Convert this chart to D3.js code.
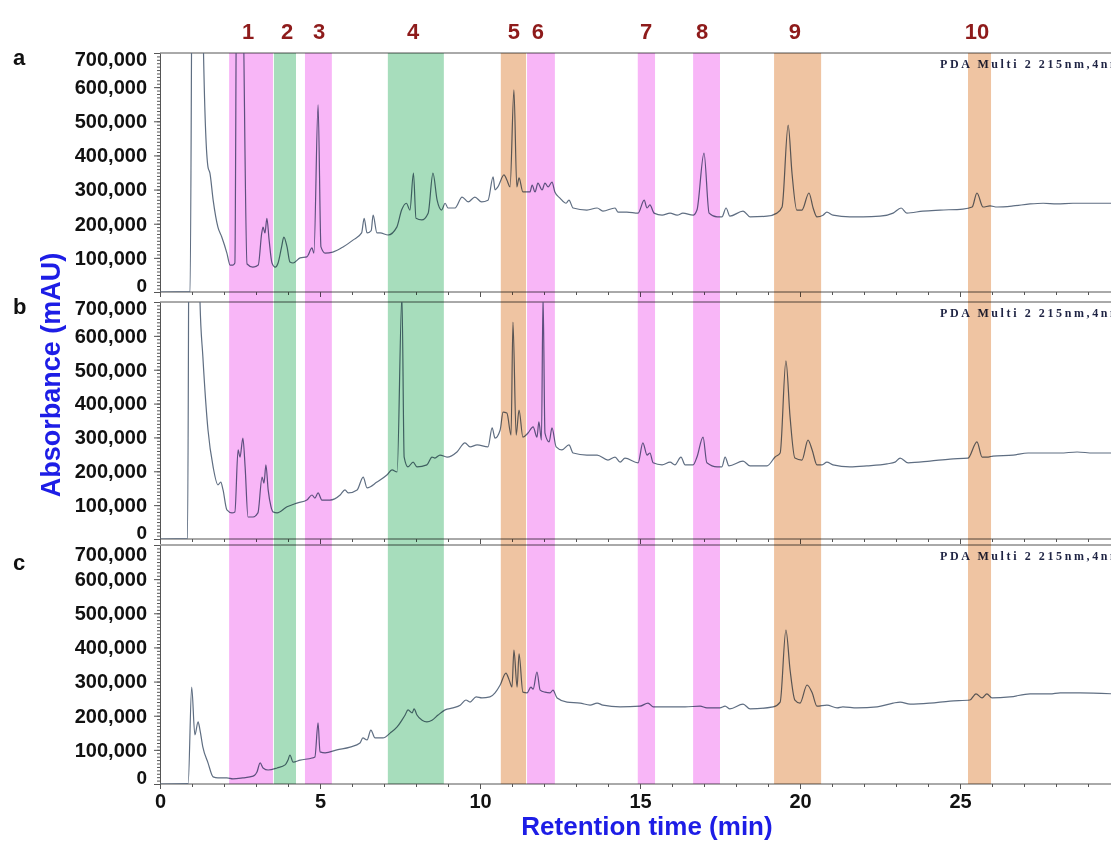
<!doctype html>
<html lang="en">
  <head>
    <meta charset="UTF-8" />
    <title>HPLC chromatograms a, b, c</title>
    <script src="https://d3js.org/d3.v7.min.js"></script>
    <style>
      body {
        margin: 0;
        background: #fff;
      }
      svg {
        display: block;
        font-family: "Liberation Sans", Arial, sans-serif;
      }
      .axis path,
      .axis line {
        stroke: #555;
      }
      .axis text {
        font-size: 20px;
        font-weight: bold;
        fill: #111;
      }
    </style>
  </head>
  <body>
    <svg width="1111" height="841"></svg>

    <script>
      // highlighted zones (retention time, min)
      const bandLabels = ["1", "2", "3", "4", "5", "6", "7", "8", "9", "10"];
      const bandStart = [2.16, 3.56, 4.53, 7.12, 10.65, 11.47, 14.93, 16.66, 19.19, 25.25];
      const bandEnd = [3.53, 4.25, 5.37, 8.87, 11.44, 12.34, 15.47, 17.5, 20.66, 25.97];
      const bandType = ["pink", "green", "pink", "green", "tan", "pink", "pink", "pink", "tan", "tan"];
      const labelTime = [2.75, 3.97, 4.97, 7.91, 11.06, 11.81, 15.19, 16.94, 19.84, 25.53];

      const panelNames = ["a", "b", "c"];
      const yTickValues = [0, 100, 200, 300, 400, 500, 600, 700]; // x1000 mAU
      const xTickValues = [0, 5, 10, 15, 20, 25];

      // traces: [time (min), absorbance (x1000 mAU)]
      const traceA = [
        [0, 0], [0.94, 1], [1.02, 1200], [1.3, 1200], [1.36, 700], [1.5, 366], [1.56, 348],
        [1.66, 270], [1.81, 190], [1.93, 161], [2.09, 114], [2.19, 79], [2.28, 79], [2.34, 85],
        [2.4, 1000], [2.56, 1000], [2.72, 82], [2.9, 73], [3.07, 79], [3.18, 173], [3.22, 190],
        [3.28, 173], [3.34, 216], [3.41, 152], [3.5, 85], [3.6, 73], [3.69, 85], [3.8, 132],
        [3.87, 161], [3.97, 132], [4.06, 88], [4.16, 85], [4.38, 100], [4.59, 103], [4.75, 129],
        [4.81, 114], [4.94, 548], [5.03, 132], [5.16, 114], [5.4, 117], [5.72, 132], [6.03, 152],
        [6.3, 173], [6.38, 216], [6.47, 173], [6.6, 180], [6.66, 225], [6.78, 173], [6.88, 173],
        [7.13, 167], [7.4, 190], [7.55, 240], [7.7, 260], [7.81, 240], [7.92, 348], [8.0, 216],
        [8.18, 211], [8.38, 231], [8.53, 348], [8.66, 269], [8.8, 240], [8.91, 260], [9.0, 246],
        [9.22, 246], [9.44, 278], [9.63, 264], [9.84, 278], [10.05, 264], [10.25, 269],
        [10.41, 337], [10.47, 299], [10.56, 308], [10.75, 343], [10.84, 328], [10.94, 308],
        [11.06, 592], [11.15, 308], [11.22, 334], [11.34, 293], [11.56, 293], [11.63, 313],
        [11.72, 293], [11.81, 319], [11.94, 299], [12.03, 319], [12.13, 308], [12.25, 322],
        [12.34, 293], [12.5, 275], [12.69, 260], [12.78, 269], [12.91, 246], [13.34, 240],
        [13.66, 246], [13.84, 237], [14.22, 246], [14.31, 234], [14.59, 234], [14.94, 231],
        [15.13, 269], [15.22, 246], [15.31, 255], [15.44, 231], [15.69, 225], [15.94, 231],
        [16.16, 225], [16.34, 231], [16.66, 225], [16.78, 240], [17.0, 407], [17.16, 231],
        [17.41, 220], [17.56, 220], [17.69, 246], [17.81, 222], [18.22, 237], [18.44, 220],
        [18.97, 222], [19.28, 231], [19.44, 249], [19.63, 489], [19.75, 348], [19.9, 240],
        [20.06, 240], [20.28, 290], [20.41, 246], [20.53, 220], [20.72, 225], [20.84, 234],
        [21.03, 225], [21.56, 220], [21.97, 220], [22.5, 222], [22.91, 231], [23.16, 246],
        [23.34, 231], [23.84, 237], [24.38, 240], [25.09, 243], [25.38, 249], [25.53, 290],
        [25.72, 249], [25.94, 252], [26.16, 249], [26.66, 252], [27.19, 258], [27.6, 260],
        [28.03, 258], [28.53, 260], [29.16, 260], [29.8, 260],
      ];
      const traceB = [
        [0, 0], [0.86, 1], [0.92, 1200], [1.2, 1200], [1.25, 700], [1.34, 538], [1.5, 322],
        [1.66, 213], [1.81, 160], [1.9, 168], [1.97, 145], [2.09, 86], [2.25, 77], [2.34, 80],
        [2.44, 263], [2.5, 242], [2.59, 298], [2.66, 213], [2.75, 65], [2.91, 65], [3.06, 77],
        [3.19, 183], [3.25, 165], [3.31, 219], [3.38, 145], [3.47, 95], [3.53, 80], [3.66, 77],
        [3.97, 95], [4.28, 106], [4.59, 115], [4.75, 130], [4.84, 121], [4.94, 136], [5.06, 115],
        [5.31, 115], [5.63, 130], [5.78, 145], [5.88, 136], [6.16, 145], [6.35, 183], [6.47, 151],
        [6.78, 168], [7.09, 189], [7.25, 204], [7.41, 198], [7.56, 720], [7.63, 242], [7.75, 213],
        [7.91, 227], [8.03, 213], [8.34, 219], [8.5, 242], [8.59, 239], [8.75, 248], [8.97, 242],
        [9.28, 257], [9.53, 284], [9.69, 272], [9.91, 278], [10.25, 272], [10.38, 328],
        [10.47, 298], [10.63, 322], [10.72, 375], [10.84, 372], [10.97, 307], [11.03, 641],
        [11.13, 307], [11.22, 381], [11.34, 301], [11.5, 313], [11.66, 331], [11.78, 301],
        [11.84, 346], [11.92, 292], [11.97, 720], [12.03, 313], [12.16, 287], [12.25, 328],
        [12.38, 272], [12.56, 263], [12.78, 278], [12.91, 254], [13.34, 248], [13.66, 248],
        [14.0, 233], [14.22, 242], [14.38, 227], [14.53, 239], [14.94, 225], [15.09, 284],
        [15.22, 248], [15.31, 254], [15.41, 225], [15.69, 219], [15.94, 227], [16.09, 219],
        [16.28, 242], [16.41, 219], [16.66, 219], [16.78, 242], [16.97, 301], [17.09, 225],
        [17.41, 213], [17.56, 213], [17.66, 242], [17.78, 216], [18.22, 230], [18.44, 216],
        [18.97, 216], [19.22, 242], [19.38, 254], [19.56, 526], [19.69, 360], [19.84, 239],
        [20.06, 233], [20.25, 292], [20.38, 263], [20.53, 219], [20.69, 219], [20.84, 227],
        [21.03, 219], [21.56, 213], [22.09, 216], [22.72, 222], [22.97, 227], [23.13, 239],
        [23.38, 225], [24.06, 230], [24.69, 236], [25.25, 239], [25.53, 287], [25.69, 242],
        [25.88, 242], [26.03, 245], [26.66, 248], [27.13, 254], [27.5, 254], [28.13, 254],
        [28.66, 257], [29.16, 254], [29.8, 254],
      ];
      const traceC = [
        [0, 0], [0.88, 1], [0.99, 284], [1.09, 144], [1.19, 182], [1.25, 158], [1.34, 108],
        [1.5, 62], [1.66, 21], [1.81, 18], [2.09, 18], [2.28, 15], [2.59, 18], [2.91, 23],
        [3.03, 35], [3.13, 62], [3.22, 47], [3.38, 41], [3.66, 47], [3.91, 56], [4.0, 70],
        [4.06, 85], [4.16, 64], [4.38, 70], [4.75, 76], [4.84, 79], [4.94, 179], [5.0, 94],
        [5.16, 91], [5.53, 100], [5.94, 108], [6.25, 120], [6.34, 135], [6.47, 129], [6.59, 158],
        [6.72, 135], [6.97, 135], [7.19, 149], [7.41, 167], [7.56, 187], [7.66, 202], [7.75, 217],
        [7.88, 208], [7.94, 220], [8.03, 202], [8.19, 187], [8.34, 182], [8.5, 187], [8.69, 202],
        [8.91, 217], [9.16, 223], [9.38, 231], [9.56, 246], [9.69, 240], [9.88, 255],
        [10.06, 252], [10.31, 255], [10.47, 267], [10.63, 290], [10.81, 325], [10.91, 305],
        [11.0, 284], [11.06, 392], [11.16, 284], [11.22, 381], [11.34, 269], [11.47, 267],
        [11.59, 284], [11.66, 278], [11.78, 328], [11.88, 275], [12.03, 269], [12.19, 267],
        [12.28, 275], [12.41, 252], [12.72, 240], [13.13, 237], [13.44, 231], [13.66, 237],
        [13.84, 231], [14.38, 226], [15.0, 228], [15.25, 237], [15.41, 226], [15.94, 226],
        [16.41, 226], [16.88, 228], [17.09, 223], [17.5, 223], [17.66, 228], [17.81, 220],
        [18.22, 234], [18.44, 220], [19.16, 226], [19.38, 240], [19.56, 451], [19.69, 334],
        [19.84, 246], [20.0, 237], [20.22, 290], [20.38, 267], [20.53, 228], [20.84, 231],
        [21.16, 223], [21.34, 226], [21.78, 223], [22.41, 226], [22.91, 237], [23.13, 240],
        [23.44, 234], [24.06, 237], [24.69, 243], [25.31, 246], [25.5, 264], [25.69, 252],
        [25.84, 264], [26.0, 252], [26.56, 255], [27.19, 264], [27.81, 264], [28.13, 267],
        [28.75, 267], [29.8, 264],
      ];
      const traces = [traceA, traceB, traceC];

      const svg = d3.select("svg");
      const left = 160;
      const panelTop = [53, 302, 545];
      const panelBottom = [292, 539, 784];
      const bandColor = { pink: "#f8b6f7", green: "#a7ddbc", tan: "#efc4a2" };

      const x = d3.scaleLinear().domain([0, 30]).range([left, left + 32 * 30]);
      const fmt = d3.format(",");

      svg.append("rect").attr("width", 1111).attr("height", 841).attr("fill", "#fff");

      panelNames.forEach((name, i) => {
        const y = d3.scaleLinear().domain([0, 700]).range([panelBottom[i], panelTop[i]]);
        const g = svg.append("g");

        g.append("clipPath")
          .attr("id", "clip-" + name)
          .append("rect")
          .attr("x", left)
          .attr("y", panelTop[i])
          .attr("width", 1111 - left)
          .attr("height", panelBottom[i] - panelTop[i]);

        // frame top
        g.append("line")
          .attr("x1", left)
          .attr("x2", 1111)
          .attr("y1", panelTop[i])
          .attr("y2", panelTop[i])
          .attr("stroke", "#555");

        // y axis: minor every 10,000, major every 100,000
        g.append("g")
          .attr("class", "axis")
          .attr("transform", `translate(${left},0)`)
          .call(d3.axisLeft(y).tickValues(d3.range(0, 701, 10)).tickSize(3).tickFormat(""))
          .call((a) => a.select(".domain").remove());
        const topDy = i === 2 ? "0.75em" : "0.6em";
        g.append("g")
          .attr("class", "axis")
          .attr("transform", `translate(${left},0)`)
          .call(
            d3.axisLeft(y)
              .tickValues(yTickValues)
              .tickSize(6)
              .tickSizeOuter(0)
              .tickPadding(7)
              .tickFormat((d) => fmt(d * 1000)),
          )
          // end labels are nudged inward so stacked panels don't collide
          .call((a) =>
            a.selectAll(".tick text")
              .attr("dy", (d) => (d === 0 ? "-0.05em" : d === 700 ? topDy : "0.32em"))
              .style("font-size", (d) => (d === 0 ? "19px" : null)),
          );

        // x axis
        g.append("g")
          .attr("class", "axis")
          .attr("transform", `translate(0,${panelBottom[i]})`)
          .call(d3.axisBottom(x).tickValues(d3.range(0, 30, 1)).tickSize(3).tickFormat(""))
          .call((a) => a.select(".domain").attr("d", `M${left},0H1111`));
        g.append("g")
          .attr("class", "axis")
          .attr("transform", `translate(0,${panelBottom[i]})`)
          .call(
            d3.axisBottom(x)
              .tickValues(xTickValues)
              .tickSize(5)
              .tickPadding(5)
              .tickFormat(i === 2 ? d3.format("d") : ""),
          )
          .call((a) => a.select(".domain").remove());

        g.append("path")
          .datum(traces[i])
          .attr("clip-path", `url(#clip-${name})`)
          .attr("fill", "none")
          .attr("stroke", "#5f6e82")
          .attr("stroke-width", 1.2)
          .attr(
            "d",
            d3.line()
              .x((d) => x(d[0]))
              .y((d) => y(d[1]))
              .curve(d3.curveMonotoneX),
          );

        g.append("text")
          .attr("x", 940)
          .attr("y", panelTop[i] + 15)
          .attr("font-family", "'Liberation Serif', 'DejaVu Serif', serif")
          .attr("font-weight", "bold")
          .attr("font-size", 12)
          .attr("letter-spacing", 2.6)
          .attr("fill", "#1f2444")
          .text("PDA Multi 2 215nm,4nm");

        g.append("text")
          .attr("x", 13)
          .attr("y", panelTop[i] + (i === 2 ? 25 : 12))
          .attr("font-size", 22)
          .attr("font-weight", "bold")
          .attr("fill", "#111")
          .text(name);
      });

      // coloured zones, multiplied over traces so lines tint through
      svg.append("g")
        .selectAll("rect")
        .data(bandLabels)
        .join("rect")
        .attr("x", (d, i) => x(bandStart[i]))
        .attr("width", (d, i) => x(bandEnd[i]) - x(bandStart[i]))
        .attr("y", panelTop[0])
        .attr("height", panelBottom[2] - panelTop[0])
        .attr("fill", (d, i) => bandColor[bandType[i]])
        .style("mix-blend-mode", "multiply");

      svg.append("g")
        .selectAll("text")
        .data(bandLabels)
        .join("text")
        .attr("x", (d, i) => x(labelTime[i]))
        .attr("y", 39)
        .attr("text-anchor", "middle")
        .attr("font-size", 22)
        .attr("font-weight", "bold")
        .attr("fill", "#8e1b1b")
        .text((d) => d);

      svg.append("text")
        .attr("transform", "translate(60,375) rotate(-90)")
        .attr("text-anchor", "middle")
        .attr("font-size", 27)
        .attr("font-weight", "bold")
        .attr("fill", "#1d1de6")
        .text("Absorbance (mAU)");

      svg.append("text")
        .attr("x", 647)
        .attr("y", 835)
        .attr("text-anchor", "middle")
        .attr("font-size", 26)
        .attr("font-weight", "bold")
        .attr("fill", "#1d1de6")
        .text("Retention time (min)");
    </script>
  </body>
</html>
